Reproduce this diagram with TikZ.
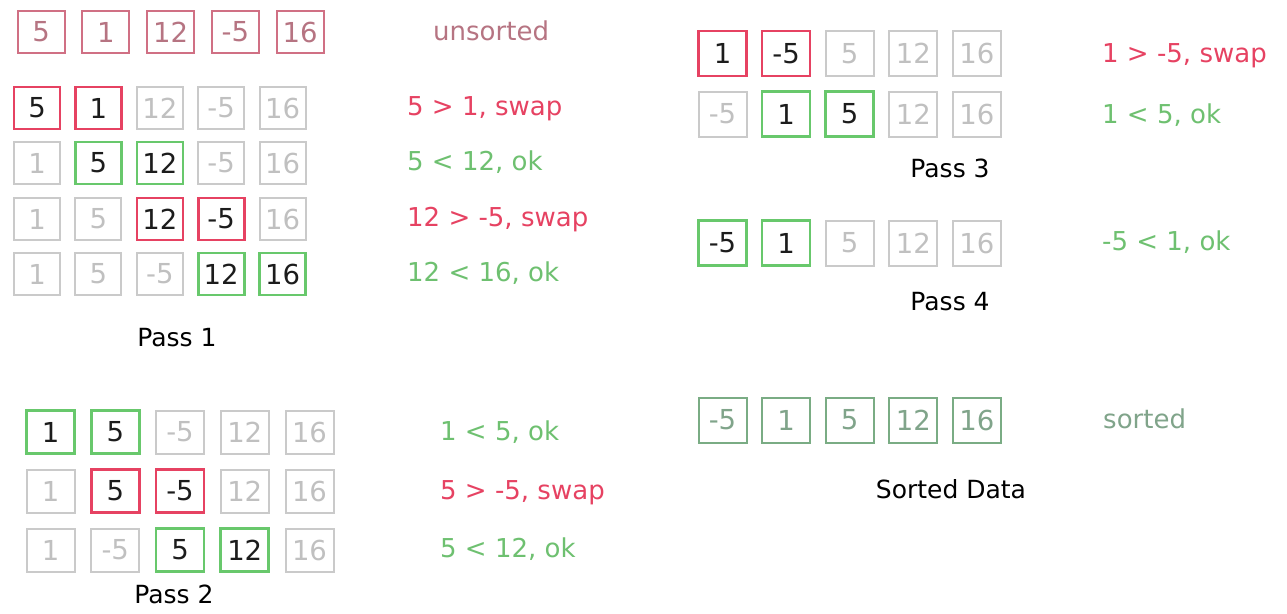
\documentclass[tikz,border=0pt]{standalone}
\usepackage{fontspec}
\setmainfont{DejaVu Sans}

\definecolor{rawpink}{RGB}{208,112,132}
\definecolor{rawtext}{RGB}{182,116,130}
\definecolor{swapred}{RGB}{230,66,98}
\definecolor{okgreen}{RGB}{104,200,108}
\definecolor{idlegrey}{RGB}{202,202,202}
\definecolor{idletext}{RGB}{192,192,192}
\definecolor{donegreen}{RGB}{122,172,132}
\definecolor{donetext}{RGB}{128,164,138}
\definecolor{darktext}{RGB}{28,28,28}
\definecolor{oktext}{RGB}{110,192,112}

\begin{document}
\begin{tikzpicture}[
    x=1pt, y=-1pt,
    cell/.style={draw, line width=2pt, minimum width=47pt, minimum height=42pt, inner sep=0pt, font=\fontsize{27.5}{27.5}\selectfont},
    rawbox/.style={cell, draw=rawpink, text=rawtext},
    swapbox/.style={cell, draw=swapred, line width=2.6pt, text=darktext},
    okbox/.style={cell, draw=okgreen, line width=2.6pt, text=darktext},
    idlebox/.style={cell, draw=idlegrey, text=idletext},
    donebox/.style={cell, draw=donegreen, text=donetext},
    tall/.style={minimum width=48pt, minimum height=45pt},
    % texte a droite des rangees
    remark/.style={anchor=base west, inner sep=0pt, font=\fontsize{26}{26}\selectfont},
    passtitle/.style={inner sep=0pt, text=black, font=\fontsize{25}{25}\selectfont}
]
\useasboundingbox (0,0) rectangle (1287,613);

% --- NON TRIE ---
\foreach \v [count=\i] in {5,1,12,-5,16}
    \node[rawbox] (raw-\i) at ({41+(\i-1)*64.8}, 32) {\v};
\node[remark, text=rawtext] (raw-txt) at (433,40) {unsorted};

% --- PASSE 1 ---
\foreach \v/\s [count=\i] in {5/swapbox,1/swapbox,12/idlebox,-5/idlebox,16/idlebox}
    \node[\s, minimum width=46pt] (p1a-\i) at ({37+(\i-1)*61.4}, 108) {\v};
\foreach \v/\s [count=\i] in {1/idlebox,5/okbox,12/okbox,-5/idlebox,16/idlebox}
    \node[\s, minimum width=46pt] (p1b-\i) at ({37+(\i-1)*61.4}, 163) {\v};
\foreach \v/\s [count=\i] in {1/idlebox,5/idlebox,12/swapbox,-5/swapbox,16/idlebox}
    \node[\s, minimum width=46pt] (p1c-\i) at ({37+(\i-1)*61.4}, 219) {\v};
\foreach \v/\s [count=\i] in {1/idlebox,5/idlebox,-5/idlebox,12/okbox,16/okbox}
    \node[\s, minimum width=46pt] (p1d-\i) at ({37+(\i-1)*61.4}, 274) {\v};

\node[remark, text=swapred] (p1a-txt) at (407,115) {5 > 1, swap};
\node[remark, text=oktext] (p1b-txt) at (407,170) {5 < 12, ok};
\node[remark, text=swapred] (p1c-txt) at (407,226) {12 > -5, swap};
\node[remark, text=oktext] (p1d-txt) at (407,281) {12 < 16, ok};
\node[passtitle] (pass1) at (177,338) {Pass 1};

% --- PASSE 2 ---
\foreach \v/\s [count=\i] in {1/okbox,5/okbox,-5/idlebox,12/idlebox,16/idlebox}
    \node[\s, minimum width=48pt, minimum height=43pt] (p2a-\i) at ({50.5+(\i-1)*64.75}, 432) {\v};
\foreach \v/\s [count=\i] in {1/idlebox,5/swapbox,-5/swapbox,12/idlebox,16/idlebox}
    \node[\s, minimum width=48pt, minimum height=43pt] (p2b-\i) at ({50.5+(\i-1)*64.75}, 491) {\v};
\foreach \v/\s [count=\i] in {1/idlebox,-5/idlebox,5/okbox,12/okbox,16/idlebox}
    \node[\s, minimum width=48pt, minimum height=43pt] (p2c-\i) at ({50.5+(\i-1)*64.75}, 550) {\v};

\node[remark, text=oktext] (p2a-txt) at (440,440) {1 < 5, ok};
\node[remark, text=swapred] (p2b-txt) at (440,499) {5 > -5, swap};
\node[remark, text=oktext] (p2c-txt) at (440,557) {5 < 12, ok};
\node[passtitle] (pass2) at (174,594) {Pass 2};

% --- PASSE 3 ---
\foreach \v/\s [count=\i] in {1/swapbox,-5/swapbox,5/idlebox,12/idlebox,16/idlebox}
    \node[\s, tall] (p3a-\i) at ({722.5+(\i-1)*63.6}, 53.5) {\v};
\foreach \v/\s [count=\i] in {-5/idlebox,1/okbox,5/okbox,12/idlebox,16/idlebox}
    \node[\s, tall] (p3b-\i) at ({722.5+(\i-1)*63.6}, 114) {\v};

\node[remark, text=swapred] (p3a-txt) at (1102,62) {1 > -5, swap};
\node[remark, text=oktext] (p3b-txt) at (1102,123) {1 < 5, ok};
\node[passtitle] (pass3) at (950,168) {Pass 3};

% --- PASSE 4 ---
\foreach \v/\s [count=\i] in {-5/okbox,1/okbox,5/idlebox,12/idlebox,16/idlebox}
    \node[\s, tall] (p4a-\i) at ({722.5+(\i-1)*63.6}, 243) {\v};

\node[remark, text=oktext] (p4a-txt) at (1102,250) {-5 < 1, ok};
\node[passtitle] (pass4) at (950,302) {Pass 4};

% --- TRIE ---
\foreach \v [count=\i] in {-5,1,5,12,16}
    \node[donebox, tall] (done-\i) at ({722.5+(\i-1)*63.6}, 420) {\v};

\node[remark, text=donetext] (done-txt) at (1103,428) {sorted};
\node[passtitle] (sorted) at (951,489) {Sorted Data};

\end{tikzpicture}
\end{document}
